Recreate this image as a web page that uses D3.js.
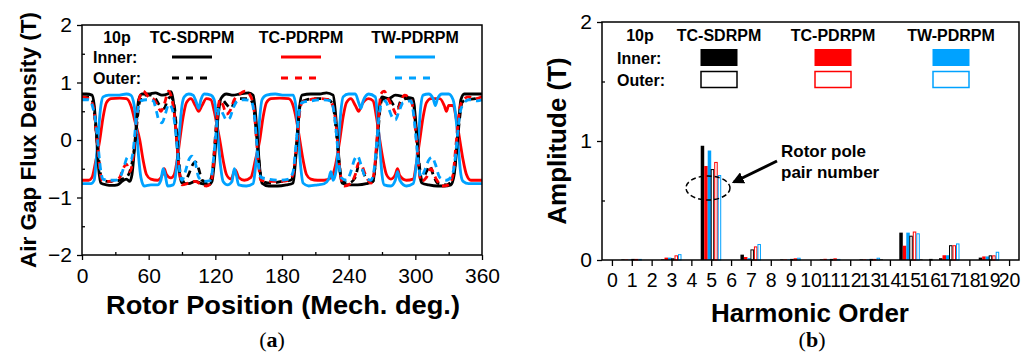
<!DOCTYPE html>
<html>
<head>
<meta charset="utf-8">
<script src="https://cdn.jsdelivr.net/npm/d3@7"></script>
<style>
  body { margin: 0; background: #fff; }
  svg { display: block; font-family: "Liberation Sans", Arial, sans-serif; }
</style>
</head>
<body>
<svg id="chart" width="1029" height="354"></svg>
<script>
// ---- panel (a): air gap flux density waveforms, [deg, T]
const innerSD = [[0,0.8],[4,0.8],[9,0.78],[11,0.6],[13,0.1],[15,-0.5],[17,-0.75],[22,-0.78],[27,-0.79],[32,-0.78],[36,-0.72],[40,-0.68],[43,-0.72],[45,-0.6],[47,-0.2],[49,0.3],[51,0.7],[54,0.8],[60,0.8],[66,0.82],[72,0.78],[77,0.8],[80,0.84],[82,0.7],[84,0.3],[86,-0.2],[88,-0.6],[90,-0.75],[96,-0.76],[102,-0.72],[108,-0.76],[114,-0.78],[117,-0.72],[119,-0.4],[121,0.1],[123,0.5],[125,0.72],[130,0.8],[136,0.78],[142,0.8],[150,0.82],[154,0.78],[156,0.5],[158,0.0],[160,-0.5],[162,-0.75],[168,-0.8],[176,-0.8],[184,-0.78],[190,-0.75],[192,-0.4],[194,0.1],[196,0.6],[198,0.78],[206,0.8],[214,0.8],[220,0.82],[226,0.78],[228,0.5],[230,0.0],[232,-0.5],[234,-0.75],[240,-0.78],[248,-0.78],[256,-0.76],[262,-0.72],[264,-0.4],[266,0.1],[268,0.6],[270,0.75],[276,0.72],[282,0.78],[290,0.75],[298,0.72],[300,0.4],[302,-0.1],[304,-0.6],[306,-0.75],[312,-0.78],[320,-0.8],[326,-0.8],[332,-0.78],[335,-0.6],[337,-0.2],[339,0.3],[341,0.7],[344,0.8],[352,0.8],[360,0.8]];
const innerPD = [[0,-0.7],[6,-0.7],[9,-0.65],[12,-0.4],[16,0],[19,0.4],[22,0.65],[26,0.72],[34,0.73],[40,0.72],[44,0.6],[48,0.3],[52,0],[55,-0.35],[58,-0.6],[62,-0.68],[68,-0.7],[72,-0.62],[74,-0.5],[76,-0.6],[80,-0.66],[83,-0.6],[86,-0.3],[88,0],[91,0.4],[94,0.65],[98,0.72],[102,0.6],[105,0.5],[108,0.6],[112,0.72],[116,0.7],[119,0.5],[122,0.2],[124,0],[127,-0.35],[130,-0.6],[134,-0.68],[138,-0.52],[141,-0.65],[146,-0.7],[152,-0.65],[156,-0.35],[160,0],[163,0.4],[166,0.65],[170,0.72],[178,0.73],[186,0.72],[190,0.6],[193,0.35],[196,0],[199,-0.35],[202,-0.6],[206,-0.68],[212,-0.7],[218,-0.7],[224,-0.66],[228,-0.45],[232,0],[235,0.4],[238,0.65],[242,0.72],[246,0.6],[249,0.5],[252,0.62],[258,0.72],[262,0.68],[265,0.4],[268,0],[271,-0.35],[274,-0.6],[278,-0.68],[282,-0.6],[284,-0.5],[286,-0.62],[292,-0.7],[298,-0.68],[301,-0.4],[304,0],[307,0.4],[310,0.65],[314,0.72],[322,0.72],[326,0.6],[328,0.5],[330,0.6],[334,0.6],[337,0.35],[340,0],[343,-0.35],[346,-0.6],[350,-0.7],[360,-0.7]];
const innerTW = [[0,-0.76],[8,-0.76],[11,-0.7],[13,-0.3],[15,0.2],[17,0.6],[19,0.75],[24,0.78],[32,0.78],[40,0.8],[44,0.78],[47,0.6],[49,0.2],[51,-0.3],[53,-0.65],[56,-0.8],[62,-0.78],[68,-0.78],[71,-0.7],[73,-0.5],[75,-0.62],[77,-0.8],[82,-0.78],[84,-0.65],[86,-0.3],[88,0.2],[90,0.6],[92,0.75],[96,0.8],[100,0.78],[103,0.65],[105,0.55],[107,0.7],[110,0.8],[116,0.78],[119,0.7],[121,0.4],[123,-0.1],[125,-0.5],[127,-0.72],[131,-0.78],[135,-0.72],[137,-0.5],[139,-0.62],[141,-0.78],[148,-0.8],[154,-0.76],[156,-0.5],[158,-0.1],[160,0.4],[162,0.7],[166,0.78],[174,0.8],[182,0.78],[190,0.78],[193,0.5],[195,0],[197,-0.5],[199,-0.75],[204,-0.8],[212,-0.78],[218,-0.76],[222,-0.68],[224,-0.55],[226,-0.7],[229,-0.5],[231,0],[233,0.5],[235,0.75],[240,0.8],[246,0.8],[249,0.65],[251,0.55],[253,0.68],[258,0.8],[264,0.75],[266,0.4],[268,-0.1],[270,-0.6],[272,-0.78],[278,-0.8],[282,-0.7],[284,-0.55],[286,-0.7],[292,-0.8],[298,-0.76],[301,-0.4],[303,0.1],[305,0.6],[307,0.78],[312,0.8],[316,0.72],[318,0.6],[320,0.72],[324,0.8],[330,0.8],[334,0.7],[337,0.3],[339,-0.2],[341,-0.6],[343,-0.72],[348,-0.76],[360,-0.76]];
const outerSD = [[0,0.75],[6,0.75],[10,0.65],[12,0.3],[14,-0.1],[16,-0.5],[18,-0.7],[24,-0.72],[30,-0.72],[36,-0.68],[40,-0.65],[43,-0.55],[46,-0.3],[48,0],[50,0.4],[52,0.68],[56,0.78],[62,0.78],[66,0.72],[70,0.6],[74,0.55],[77,0.7],[80,0.75],[83,0.6],[85,0.2],[87,-0.3],[89,-0.65],[92,-0.72],[96,-0.6],[99,-0.45],[102,-0.38],[105,-0.5],[108,-0.7],[114,-0.74],[117,-0.6],[119,-0.2],[121,0.3],[123,0.6],[126,0.7],[130,0.62],[134,0.55],[137,0.65],[142,0.72],[150,0.72],[154,0.62],[156,0.3],[158,-0.1],[160,-0.5],[162,-0.72],[170,-0.75],[180,-0.72],[188,-0.7],[191,-0.5],[193,-0.1],[195,0.4],[197,0.65],[202,0.7],[212,0.72],[222,0.7],[226,0.6],[228,0.3],[230,-0.1],[232,-0.5],[234,-0.72],[240,-0.75],[246,-0.65],[249,-0.45],[252,-0.5],[256,-0.68],[262,-0.72],[264,-0.4],[266,0],[268,0.5],[270,0.7],[276,0.72],[280,0.62],[284,0.55],[287,0.68],[292,0.72],[298,0.68],[300,0.3],[302,-0.1],[304,-0.5],[306,-0.7],[310,-0.55],[313,-0.45],[316,-0.6],[320,-0.75],[328,-0.78],[333,-0.7],[336,-0.4],[338,0],[340,0.4],[342,0.65],[346,0.7],[354,0.72],[360,0.75]];
const outerPD = [[0,0.75],[6,0.72],[10,0.6],[12,0.3],[14,-0.1],[16,-0.5],[18,-0.7],[24,-0.72],[30,-0.7],[34,-0.65],[37,-0.5],[40,-0.42],[43,-0.55],[46,-0.3],[48,0.1],[50,0.5],[52,0.75],[55,0.85],[60,0.75],[64,0.72],[68,0.6],[71,0.5],[74,0.62],[78,0.85],[81,0.7],[84,0.3],[86,-0.2],[88,-0.6],[90,-0.78],[96,-0.75],[102,-0.72],[108,-0.78],[112,-0.8],[116,-0.75],[118,-0.5],[120,0],[122,0.45],[124,0.7],[127,0.6],[130,0.45],[133,0.5],[137,0.7],[142,0.8],[147,0.85],[152,0.75],[155,0.5],[157,0],[159,-0.45],[161,-0.7],[168,-0.72],[178,-0.72],[186,-0.7],[190,-0.6],[192,-0.3],[194,0.1],[196,0.5],[198,0.65],[204,0.7],[214,0.72],[222,0.7],[226,0.58],[229,0.2],[231,-0.3],[233,-0.65],[236,-0.8],[242,-0.75],[246,-0.6],[249,-0.4],[252,-0.45],[255,-0.6],[260,-0.75],[263,-0.55],[265,-0.1],[267,0.4],[269,0.8],[272,0.85],[276,0.7],[280,0.55],[283,0.45],[286,0.6],[290,0.78],[296,0.7],[299,0.4],[301,0],[303,-0.45],[305,-0.72],[310,-0.65],[314,-0.5],[318,-0.65],[324,-0.8],[330,-0.78],[334,-0.6],[336,-0.2],[338,0.2],[340,0.55],[343,0.7],[348,0.75],[354,0.72],[360,0.75]];
const outerTW = [[0,0.7],[6,0.7],[10,0.55],[13,0.2],[15,-0.2],[17,-0.55],[19,-0.68],[24,-0.7],[30,-0.7],[35,-0.62],[38,-0.45],[41,-0.3],[44,-0.35],[46,-0.2],[48,0.2],[50,0.5],[53,0.68],[58,0.7],[64,0.68],[67,0.5],[69,0.35],[72,0.3],[75,0.45],[78,0.62],[81,0.55],[84,0.2],[86,-0.2],[88,-0.55],[90,-0.7],[93,-0.55],[96,-0.35],[99,-0.28],[102,-0.4],[105,-0.65],[110,-0.72],[116,-0.7],[118,-0.4],[120,0],[122,0.4],[124,0.55],[127,0.45],[130,0.35],[133,0.38],[136,0.55],[140,0.68],[146,0.7],[152,0.68],[155,0.45],[157,0],[159,-0.45],[161,-0.65],[168,-0.68],[178,-0.7],[186,-0.68],[190,-0.55],[192,-0.2],[194,0.2],[196,0.55],[198,0.65],[206,0.68],[216,0.7],[224,0.68],[227,0.45],[229,0.1],[231,-0.35],[233,-0.65],[238,-0.7],[242,-0.55],[245,-0.35],[248,-0.28],[251,-0.42],[255,-0.65],[260,-0.7],[263,-0.5],[265,-0.1],[267,0.35],[269,0.6],[273,0.68],[276,0.55],[279,0.4],[282,0.35],[285,0.48],[289,0.65],[296,0.68],[299,0.35],[301,-0.05],[303,-0.45],[305,-0.65],[309,-0.5],[312,-0.35],[315,-0.3],[318,-0.42],[322,-0.65],[328,-0.7],[333,-0.62],[336,-0.3],[338,0.1],[340,0.45],[343,0.62],[348,0.7],[356,0.68],[360,0.7]];

// ---- panel (b): harmonic amplitudes, order 0..20
const orders = d3.range(0, 21);
const ampInnerSD = [0,0.005,0,0.005,0,0.96,0,0.045,0,0.005,0,0.005,0,0.005,0.005,0.23,0.005,0.015,0,0.02,0];
const ampInnerPD = [0,0.005,0,0.02,0,0.79,0,0.025,0,0.005,0,0.01,0,0.005,0,0.12,0,0.04,0,0.03,0];
const ampInnerTW = [0,0.005,0,0.02,0,0.92,0,0.015,0,0.005,0,0.005,0,0.005,0,0.23,0,0.04,0,0.03,0];
const ampOuterSD = [0,0.005,0,0.01,0,0.76,0,0.085,0,0.005,0,0.005,0,0.005,0,0.2,0.005,0.12,0,0.035,0];
const ampOuterPD = [0,0.005,0,0.035,0,0.82,0,0.11,0,0.01,0,0.01,0,0.005,0,0.235,0,0.12,0,0.035,0];
const ampOuterTW = [0,0.005,0,0.045,0,0.71,0,0.13,0,0.015,0,0.005,0,0.015,0,0.22,0,0.135,0,0.065,0];

const machines = ['TC-SDRPM', 'TC-PDRPM', 'TW-PDRPM'];
const colors = ['#000000', '#ff0000', '#00a2ff'];
const fluxTicks = [-2, -1, 0, 1, 2];
const angleTicks = [0, 60, 120, 180, 240, 300, 360];
const ampTicks = [0, 1, 2];

const fmtInt = d => (d < 0 ? '\u2212' + Math.abs(d) : String(d));

const svg = d3.select('#chart');

// ================= panel (a) =================
const xA = d3.scaleLinear().domain([0, 360]).range([82, 482]);
const yA = d3.scaleLinear().domain([-2, 2]).range([255, 25]);
const gA = svg.append('g');

gA.append('clipPath').attr('id', 'clipA')
  .append('rect').attr('x', 82).attr('y', 25).attr('width', 400).attr('height', 230);

const styleAxis = (g, size) => {
  g.select('.domain').remove();
  g.selectAll('line').attr('stroke', '#000').attr('stroke-width', 1.3);
  g.selectAll('text').attr('font-size', size).attr('fill', '#000');
};

gA.append('g')
  .attr('transform', 'translate(0,255)')
  .call(d3.axisBottom(xA).tickValues(angleTicks).tickSize(5).tickPadding(8).tickFormat(fmtInt))
  .call(g => styleAxis(g, 21));
gA.append('g')
  .attr('transform', 'translate(0,255)')
  .call(d3.axisBottom(xA).tickValues(d3.range(30, 360, 60)).tickSize(-3).tickFormat(''))
  .call(g => styleAxis(g, 20));
gA.append('g')
  .attr('transform', 'translate(82,0)')
  .call(d3.axisLeft(yA).tickValues(fluxTicks).tickSize(5).tickPadding(5).tickFormat(fmtInt))
  .call(g => styleAxis(g, 21));
gA.append('g')
  .attr('transform', 'translate(82,0)')
  .call(d3.axisLeft(yA).tickValues([-1.5, -0.5, 0.5, 1.5]).tickSize(-3).tickFormat(''))
  .call(g => styleAxis(g, 20));

const lineA = d3.line()
  .x(d => xA(d[0]))
  .y(d => yA(d[1]))
  .curve(d3.curveMonotoneX);

const traces = [
  {data: innerPD, color: colors[1], dash: null},
  {data: innerTW, color: colors[2], dash: null},
  {data: innerSD, color: colors[0], dash: null},
  {data: outerSD, color: colors[0], dash: '7,5'},
  {data: outerPD, color: colors[1], dash: '7,5'},
  {data: outerTW, color: colors[2], dash: '7,5'}
];

gA.append('g').attr('clip-path', 'url(#clipA)')
  .selectAll('path')
  .data(traces)
  .join('path')
  .attr('d', d => lineA(d.data))
  .attr('fill', 'none')
  .attr('stroke', d => d.color)
  .attr('stroke-width', 2.8)
  .attr('stroke-dasharray', d => d.dash)
  .attr('stroke-linejoin', 'round');

gA.append('rect')
  .attr('x', 82).attr('y', 25).attr('width', 400).attr('height', 230)
  .attr('fill', 'none').attr('stroke', '#000').attr('stroke-width', 1.5);

// legend (a)
const legA = gA.append('g').attr('font-weight', 'bold').attr('font-size', 16);
legA.append('text').attr('x', 117).attr('y', 43).attr('text-anchor', 'middle').text('10p');
legA.append('text').attr('x', 93).attr('y', 63).text('Inner:');
legA.append('text').attr('x', 93).attr('y', 84).text('Outer:');
const legAx = [192, 301, 415];
machines.forEach((m, i) => {
  legA.append('text').attr('x', legAx[i]).attr('y', 43).attr('text-anchor', 'middle').text(m);
  legA.append('line')
    .attr('x1', legAx[i] - 20).attr('x2', legAx[i] + 20).attr('y1', 57).attr('y2', 57)
    .attr('stroke', colors[i]).attr('stroke-width', 3);
  legA.append('line')
    .attr('x1', legAx[i] - 20).attr('x2', legAx[i] + 20).attr('y1', 78).attr('y2', 78)
    .attr('stroke', colors[i]).attr('stroke-width', 3).attr('stroke-dasharray', '7,7');
});

gA.append('text')
  .attr('x', 283).attr('y', 314).attr('text-anchor', 'middle')
  .attr('font-size', 26).attr('font-weight', 'bold')
  .attr('textLength', 354).attr('lengthAdjust', 'spacingAndGlyphs')
  .text('Rotor Position (Mech. deg.)');
gA.append('text')
  .attr('transform', 'translate(36,140) rotate(-90)')
  .attr('text-anchor', 'middle')
  .attr('font-size', 22.5).attr('font-weight', 'bold')
  .attr('textLength', 256).attr('lengthAdjust', 'spacingAndGlyphs')
  .text('Air Gap Flux Density (T)');

// ================= panel (b) =================
const xB = d3.scaleLinear().domain([-0.5, 20.5]).range([602, 1019]);
const yB = d3.scaleLinear().domain([0, 2]).range([260, 22]);
const gB = svg.append('g');

gB.append('g')
  .attr('transform', 'translate(0,260)')
  .call(d3.axisBottom(xB).tickValues(orders).tickSize(6).tickPadding(7).tickFormat(fmtInt))
  .call(g => styleAxis(g, 19.5));
gB.append('g')
  .attr('transform', 'translate(602,0)')
  .call(d3.axisLeft(yB).tickValues(ampTicks).tickSize(5).tickPadding(5).tickFormat(fmtInt))
  .call(g => styleAxis(g, 21));
gB.append('g')
  .attr('transform', 'translate(602,0)')
  .call(d3.axisLeft(yB).tickValues([0.5, 1.5]).tickSize(-3).tickFormat(''))
  .call(g => styleAxis(g, 20));

const barW = 3.5;
const barSets = [
  {vals: ampInnerSD, color: colors[0], filled: true},
  {vals: ampInnerPD, color: colors[1], filled: true},
  {vals: ampInnerTW, color: colors[2], filled: true},
  {vals: ampOuterSD, color: colors[0], filled: false},
  {vals: ampOuterPD, color: colors[1], filled: false},
  {vals: ampOuterTW, color: colors[2], filled: false}
];

barSets.forEach((s, k) => {
  gB.append('g')
    .selectAll('rect')
    .data(orders.filter(o => s.vals[o] > 0))
    .join('rect')
    .attr('x', o => xB(o) - 3 * barW + k * barW)
    .attr('y', o => yB(s.vals[o]))
    .attr('width', s.filled ? barW : barW - 1)
    .attr('height', o => yB(0) - yB(s.vals[o]))
    .attr('fill', s.filled ? s.color : '#fff')
    .attr('stroke', s.filled ? 'none' : s.color)
    .attr('stroke-width', 1);
});

gB.append('rect')
  .attr('x', 602).attr('y', 22).attr('width', 417).attr('height', 238)
  .attr('fill', 'none').attr('stroke', '#000').attr('stroke-width', 1.5);

// legend (b)
const legB = gB.append('g').attr('font-weight', 'bold').attr('font-size', 16);
legB.append('text').attr('x', 640).attr('y', 41).attr('text-anchor', 'middle').text('10p');
legB.append('text').attr('x', 617).attr('y', 64).text('Inner:');
legB.append('text').attr('x', 617).attr('y', 86).text('Outer:');
const legBx = [719, 833, 951];
machines.forEach((m, i) => {
  legB.append('text').attr('x', legBx[i]).attr('y', 41).attr('text-anchor', 'middle').text(m);
  legB.append('rect')
    .attr('x', legBx[i] - 18.5).attr('y', 49).attr('width', 37).attr('height', 17)
    .attr('fill', colors[i]);
  legB.append('rect')
    .attr('x', legBx[i] - 18).attr('y', 71.5).attr('width', 36).attr('height', 16)
    .attr('fill', '#fff').attr('stroke', colors[i]).attr('stroke-width', 1.5);
});

// annotation
gB.append('ellipse')
  .attr('cx', 708).attr('cy', 188).attr('rx', 22).attr('ry', 12)
  .attr('fill', 'none').attr('stroke', '#000').attr('stroke-width', 1.5)
  .attr('stroke-dasharray', '5,3');
gB.append('defs').append('marker')
  .attr('id', 'arrow').attr('viewBox', '0 0 10 10')
  .attr('refX', 8).attr('refY', 5)
  .attr('markerWidth', 4).attr('markerHeight', 4)
  .attr('orient', 'auto')
  .append('path').attr('d', 'M0,0L10,5L0,10z').attr('fill', '#000');
gB.append('line')
  .attr('x1', 777).attr('y1', 161).attr('x2', 734).attr('y2', 182)
  .attr('stroke', '#000').attr('stroke-width', 3)
  .attr('marker-end', 'url(#arrow)');
gB.append('text').attr('x', 781).attr('y', 157)
  .attr('font-size', 17).attr('font-weight', 'bold').text('Rotor pole');
gB.append('text').attr('x', 781).attr('y', 178)
  .attr('font-size', 17).attr('font-weight', 'bold').text('pair number');

gB.append('text')
  .attr('x', 810).attr('y', 322).attr('text-anchor', 'middle')
  .attr('font-size', 26).attr('font-weight', 'bold')
  .text('Harmonic Order');
gB.append('text')
  .attr('transform', 'translate(566,141) rotate(-90)')
  .attr('text-anchor', 'middle')
  .attr('font-size', 26).attr('font-weight', 'bold')
  .text('Amplitude (T)');

// sub captions
const cap = svg.append('g').attr('font-family', '"Liberation Serif", "Times New Roman", serif').attr('font-size', 22);
[['a', 272], ['b', 812]].forEach(([l, x]) => {
  const t = cap.append('text').attr('x', x).attr('y', 347).attr('text-anchor', 'middle');
  t.append('tspan').text('(');
  t.append('tspan').attr('font-weight', 'bold').text(l);
  t.append('tspan').text(')');
});
</script>
</body>
</html>
